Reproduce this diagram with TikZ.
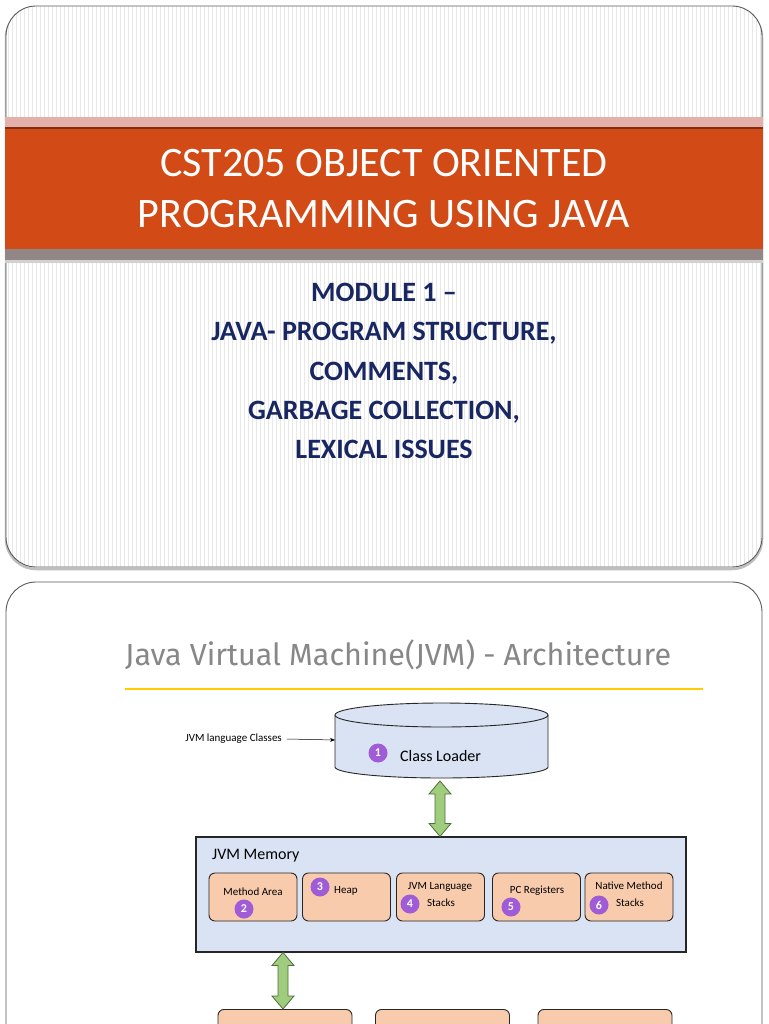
\documentclass[tikz,border=0pt]{standalone}
\usepackage{fontspec}
\setmainfont{Carlito}
\newfontfamily\firafont{Fira Sans}
\usetikzlibrary{calc,arrows.meta}
\definecolor{bandorange}{RGB}{210,74,22}
\definecolor{pinkstrip}{RGB}{228,176,170}
\definecolor{darkband}{RGB}{130,45,18}
\definecolor{graystrip}{RGB}{145,135,135}
\definecolor{stripegray}{RGB}{232,232,232}
\definecolor{navytext}{RGB}{24,38,98}
\definecolor{titlegray}{RGB}{135,135,135}
\definecolor{goldline}{RGB}{255,204,0}
\definecolor{lightblue}{RGB}{218,227,243}
\definecolor{peach}{RGB}{248,203,173}
\definecolor{numpurple}{RGB}{160,92,214}
\definecolor{arrowgreen}{RGB}{160,205,125}
\definecolor{arrowedge}{RGB}{80,110,60}
\definecolor{slideborder}{RGB}{90,90,90}
\tikzset{
  slideframe/.style={draw=slideborder, line width=0.9pt, rounded corners=30pt},
  stripe/.style={draw=stripegray, line width=0.7pt},
  titletext/.style={text=white, font=\fontsize{42}{48}\selectfont, anchor=base, inner sep=0},
  subtext/.style={text=navytext, font=\bfseries\fontsize{28}{32}\selectfont, anchor=base, inner sep=0},
  membox/.style={draw=black!85, line width=0.9pt, fill=peach, rounded corners=6pt, minimum width=88pt, minimum height=48pt, inner sep=0},
  bottombox/.style={draw=black!85, line width=0.9pt, fill=peach, rounded corners=6pt, minimum width=134pt, minimum height=40pt, inner sep=0, anchor=north},
  numc/.style={circle, fill=numpurple, text=white, font=\bfseries\fontsize{12}{12}\selectfont, minimum size=19pt, inner sep=0},
  smalltext/.style={font=\fontsize{11}{12}\selectfont, inner sep=0, text=black},
  garrow/.style={fill=arrowgreen, draw=arrowedge, line width=0.8pt, line join=miter},
}
\newcommand\greenlink[2]{%
  \filldraw[garrow] let \p1=(#1), \p2=(#2) in
    (\x1,\y1) -- ++(11pt,-13pt) -- ++(-6pt,0pt) -- (\x1+5pt,\y2+13pt) -- ++(6pt,0pt)
    -- (\x1,\y2) -- ++(-11pt,13pt) -- ++(6pt,0pt) -- (\x1-5pt,\y1-13pt) -- ++(-6pt,0pt) -- cycle;}
\begin{document}
\begin{tikzpicture}[x=1pt,y=-1pt]
\useasboundingbox (0,0) rectangle (768,1024);
\fill[white] (0,0) rectangle (768,1024);
% ---------- slide 1 ----------
\draw[black!25, line width=2.5pt, rounded corners=30pt] (6,8) rectangle (762,569);
\begin{scope}
  \clip[rounded corners=30pt] (6,6) rectangle (762,567);
  \fill[white] (6,6) rectangle (762,567);
  \foreach \x in {8,12,...,760} \draw[stripe] (\x,0) -- (\x,570);
\end{scope}
\draw[slideframe] (6,6) rectangle (762,567);
% band
\fill[pinkstrip] (5,117) rectangle (763,128);
\fill[darkband] (5,127) rectangle (763,130);
\fill[bandorange] (5,129.5) rectangle (763,249);
\fill[graystrip] (5,249) rectangle (763,260);
\fill[black!18] (5,260) rectangle (763,263);
\node[titletext] (t1) at (384,177) {CST205 OBJECT ORIENTED};
\node[titletext] (t2) at (384,228) {PROGRAMMING USING JAVA};
\node[subtext] (s1) at (384,301) {MODULE 1 –};
\node[subtext] (s2) at (384,340.5) {JAVA- PROGRAM STRUCTURE,};
\node[subtext] (s3) at (384,380) {COMMENTS,};
\node[subtext] (s4) at (384,419) {GARBAGE COLLECTION,};
\node[subtext] (s5) at (384,458) {LEXICAL ISSUES};
% ---------- slide 2 ----------
\draw[slideframe, fill=white] (6,582) rectangle (762,1100);
\node[text=titlegray, font=\firafont\fontsize{30.5}{34}\selectfont, anchor=base west, inner sep=0] (jt) at (125,665) {Java Virtual Machine(JVM) - Architecture};
\draw[goldline, line width=2pt] (125,689) -- (703,689);
% cylinder
\filldraw[fill=lightblue, draw=black!85, line width=0.9pt]
  (335,715) -- (335,767) arc[start angle=180, end angle=360, x radius=106.5pt, y radius=11pt] -- (548,715);
\filldraw[fill=lightblue, draw=black!85, line width=0.9pt] (441.5,715) ellipse[x radius=106.5pt, y radius=12pt];
\coordinate (clbot) at (440,781);
\coordinate (clw) at (335,740);
\node[numc] (n1) at (378,753) {1};
\node[font=\fontsize{16}{18}\selectfont, anchor=west, inner sep=0] (cl) at (400,756) {Class Loader};
\node[font=\fontsize{11}{12}\selectfont, anchor=east, inner sep=0] (jlc) at (282,739) {JVM language Classes};
\draw[black, line width=0.5pt, -{Stealth[length=5pt,width=4pt]}] ([xshift=5pt]jlc.east) -- (clw);
% JVM memory
\node[draw=black!85, line width=1.2pt, fill=lightblue, minimum width=490pt, minimum height=115pt, inner sep=0] (mem) at (441,894.5) {};
\node[font=\fontsize{16}{18}\selectfont, anchor=west, inner sep=0] (memt) at (212,856) {JVM Memory};
\greenlink{clbot}{mem.north -| clbot}
\node[membox] (b1) at (253,897) {};
\node[membox] (b2) at (346.5,897) {};
\node[membox] (b3) at (440.5,897) {};
\node[membox] (b4) at (536.5,897) {};
\node[membox] (b5) at (629,897) {};
\node[smalltext] (l1) at (253,892) {Method Area};
\node[numc] (n2) at (244,909) {2};
\node[numc] (n3) at (320,887) {3};
\node[smalltext, anchor=west] (l2) at (334,891) {Heap};
\node[smalltext] (l3a) at (440,887) {JVM Language};
\node[numc] (n4) at (410,904) {4};
\node[smalltext] (l3b) at (441,903) {Stacks};
\node[smalltext] (l4) at (537,891) {PC Registers};
\node[numc] (n5) at (511,907) {5};
\node[smalltext] (l5a) at (629,886) {Native Method};
\node[numc] (n6) at (599,905) {6};
\node[smalltext] (l5b) at (630,903) {Stacks};
% bottom row
\node[bottombox] (c1) at (285,1009) {};
\node[bottombox] (c2) at (442.5,1009) {};
\node[bottombox] (c3) at (605,1009) {};
\coordinate (membot) at (283,952.5);
\greenlink{membot}{c1.north -| membot}
\end{tikzpicture}
\end{document}
